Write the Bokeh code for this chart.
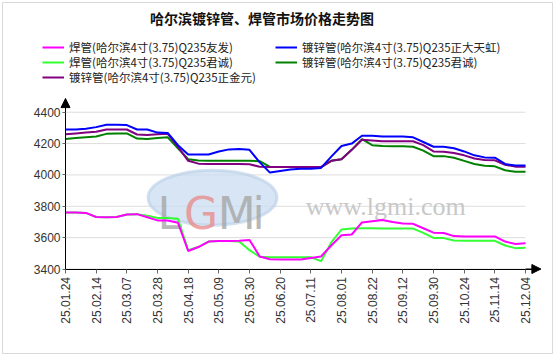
from bokeh.plotting import figure
from bokeh.models import (FixedTicker, Legend, LegendItem, Label, Arrow, NormalHead, Range1d)
from bokeh.embed import file_html
from bokeh.resources import INLINE
from bokeh.core.properties import value

# ---------------- data ----------------
tick_labels = ["25.01.24", "25.02.14", "25.03.07", "25.03.28", "25.04.18", "25.05.09",
               "25.05.30", "25.06.20", "25.07.11", "25.08.01", "25.08.22", "25.09.12",
               "25.09.30", "25.10.24", "25.11.14", "25.12.04"]
n_points = 46
x = list(range(n_points))

welded_youfa = [3760, 3760, 3758, 3732, 3730, 3732, 3748, 3750, 3730, 3710,
                3710, 3695, 3515, 3540, 3575, 3578, 3578, 3580, 3585, 3480,
                3462, 3460, 3460, 3460, 3470, 3480, 3550, 3615, 3620, 3697,
                3705, 3712, 3700, 3690, 3688, 3660, 3632, 3630, 3610, 3608,
                3608, 3608, 3608, 3575, 3560, 3565]
welded_juncheng = [3760, 3760, 3758, 3732, 3730, 3732, 3748, 3750, 3740, 3725,
                   3725, 3720, 3520, 3540, 3575, 3578, 3578, 3575, 3520, 3478,
                   3475, 3475, 3475, 3475, 3475, 3450, 3570, 3652, 3658, 3660,
                   3660, 3658, 3658, 3658, 3658, 3630, 3598, 3597, 3582, 3580,
                   3580, 3580, 3580, 3550, 3533, 3535]
galv_zhengda = [4290, 4290, 4295, 4305, 4320, 4320, 4318, 4290, 4290, 4270,
                4268, 4190, 4130, 4130, 4130, 4150, 4163, 4165, 4160, 4080,
                4015, 4025, 4035, 4040, 4040, 4045, 4117, 4185, 4200, 4250,
                4250, 4245, 4245, 4245, 4240, 4210, 4180, 4180, 4170, 4150,
                4125, 4112, 4110, 4070, 4060, 4060]
galv_juncheng = [4230, 4235, 4240, 4245, 4262, 4265, 4265, 4232, 4230, 4235,
                 4240, 4170, 4100, 4092, 4090, 4090, 4090, 4090, 4090, 4088,
                 4052, 4050, 4050, 4050, 4050, 4050, 4090, 4100, 4160, 4228,
                 4190, 4185, 4183, 4183, 4180, 4155, 4120, 4120, 4110, 4090,
                 4070, 4058, 4055, 4030, 4021, 4021]
galv_zhengjin = [4260, 4265, 4270, 4275, 4290, 4290, 4290, 4258, 4255, 4260,
                 4262, 4180, 4090, 4072, 4070, 4070, 4070, 4070, 4068, 4052,
                 4050, 4050, 4050, 4050, 4050, 4050, 4090, 4100, 4160, 4225,
                 4220, 4215, 4215, 4215, 4215, 4190, 4150, 4148, 4140, 4125,
                 4105, 4095, 4093, 4065, 4053, 4053]

series_names = ["焊管(哈尔滨4寸(3.75)Q235友发)", "镀锌管(哈尔滨4寸(3.75)Q235正大天虹)",
                "焊管(哈尔滨4寸(3.75)Q235君诚)", "镀锌管(哈尔滨4寸(3.75)Q235君诚)",
                "镀锌管(哈尔滨4寸(3.75)Q235正金元)"]
y_ticks = [3400, 3600, 3800, 4000, 4200, 4400]
title_text = "哈尔滨镀锌管、焊管市场价格走势图"

# ---------------- figure ----------------
# frame covers (almost) the whole canvas; axes are pinned at data locations
y_base, y_top = 3400, 4487
x_arrow = 46.5
p = figure(width=554, height=355, output_backend="svg", toolbar_location=None,
           x_range=Range1d(-6.163, 47.64), y_range=Range1d(2861, 5100),
           min_border_left=2, min_border_right=2, min_border_top=2, min_border_bottom=2)
p.outline_line_color = "#d9d9d9"
p.xgrid.visible = False
p.ygrid.visible = False
p.background_fill_color = "white"
p.border_fill_color = "white"

# grid lines (horizontal, up to last data point)
p.segment(x0=[0] * len(y_ticks), x1=[n_points - 1] * len(y_ticks), y0=y_ticks, y1=y_ticks,
          line_color="#dddddd", line_width=1)

# watermark
p.ellipse(x=[14.38], y=[3855], width=12.6, height=351, fill_color="#c9dcf0", fill_alpha=0.75,
          line_color="#b7cde6", line_alpha=0.6, line_width=3)
for t, xx, col in [("L", 9.0, "#a5a5a5"), ("G", 11.6, "#e88c8c"), ("M", 14.9, "#a5a5a5"), ("i", 18.3, "#a5a5a5")]:
    p.text(x=[xx], y=[3753], text=[t], text_font=value("DejaVu Sans"), text_font_size="44px",
           text_color=col, text_alpha=0.8, text_baseline="alphabetic")
p.text(x=[23.5], y=[3798], text=["www.lgmi.com"], text_font=value("Liberation Serif"),
       text_font_size="26px", text_color="#c8c8c8", text_baseline="alphabetic")

# lines
r_jc = p.line(x, welded_juncheng, line_color="#33ff33", line_width=2)
r_yf = p.line(x, welded_youfa, line_color="#ff00ff", line_width=2)
r_gjc = p.line(x, galv_juncheng, line_color="#008000", line_width=2)
r_zj = p.line(x, galv_zhengjin, line_color="#800080", line_width=2)
r_zd = p.line(x, galv_zhengda, line_color="#0000ff", line_width=2)

# axes pinned at data positions
xa = p.xaxis[0]
xa.fixed_location = y_base
xa.bounds = (0, x_arrow)
xa.ticker = FixedTicker(ticks=[i * 3 for i in range(len(tick_labels))])
xa.major_label_overrides = {i * 3: lab for i, lab in enumerate(tick_labels)}
xa.major_label_orientation = 3.14159265 / 2
xa.minor_tick_line_color = None
xa.major_tick_in = 0
xa.major_tick_out = 4
xa.major_label_standoff = 4
xa.major_label_text_font = "Liberation Sans"
xa.major_label_text_font_size = "12px"
xa.major_label_text_color = "#333333"
xa.axis_line_color = "black"
xa.major_tick_line_color = "#666666"

ya = p.yaxis[0]
ya.fixed_location = 0
ya.bounds = (y_base, y_top)
ya.ticker = FixedTicker(ticks=y_ticks)
ya.minor_tick_line_color = None
ya.major_tick_in = 0
ya.major_tick_out = 3
ya.major_label_standoff = 2
ya.major_label_text_font = "Liberation Sans"
ya.major_label_text_font_size = "12px"
ya.major_label_text_color = "#333333"
ya.axis_line_color = "black"
ya.major_tick_line_color = "#666666"

# axis arrows
p.add_layout(Arrow(end=NormalHead(size=9, fill_color="black", line_color="black"),
                   x_start=0, y_start=4420, x_end=0, y_end=y_top, line_color="black", line_width=1))
p.add_layout(Arrow(end=NormalHead(size=9, fill_color="black", line_color="black"),
                   x_start=45, y_start=y_base, x_end=x_arrow, y_end=y_base, line_color="black", line_width=1))

# title
p.add_layout(Label(x=19.22, y=5000, text=title_text, text_align="center", text_baseline="middle",
                   text_font="Noto Sans CJK SC", text_font_size="14px", text_font_style="bold",
                   text_color="#111111"))

# legend: one row per Legend so that row spacing matches
rows = [([series_names[0], series_names[1]], [r_yf, r_zd], 298),
        ([series_names[2], series_names[3]], [r_jc, r_gjc], 283),
        ([series_names[4]], [r_zj], 268)]
for labels, rends, vy in rows:
    lg = Legend(items=[LegendItem(label=lab, renderers=[r]) for lab, r in zip(labels, rends)],
                location=(40, vy), orientation="horizontal",
                padding=0, margin=0, spacing=42, label_standoff=5,
                glyph_width=22, glyph_height=14, label_height=14,
                label_text_font="Noto Sans CJK SC", label_text_font_size="11.5px",
                label_text_color="#222222", border_line_color=None, background_fill_alpha=0)
    p.add_layout(lg)

open("out.html", "w").write(file_html(p, INLINE))
